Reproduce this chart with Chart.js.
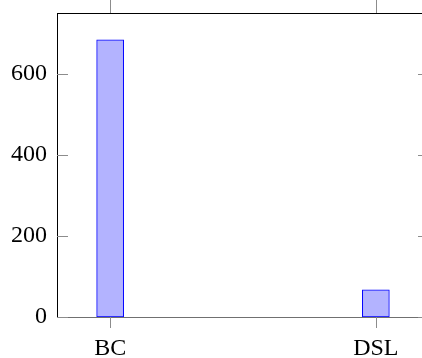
<!DOCTYPE html>
<html>
<head>
<meta charset="utf-8">
<script src="https://cdn.jsdelivr.net/npm/chart.js@4/dist/chart.umd.min.js"></script>
<style>
  html, body { margin: 0; padding: 0; background: #fff; overflow: hidden; }
  #wrap { width: 440px; height: 358px; }
</style>
</head>
<body>
<div id="wrap"><canvas id="chart" width="440" height="358"></canvas></div>
<script>
// DATA
const categories = ["BC", "DSL"];
const values = [684, 67];
const yTicks = [0, 200, 400, 600];

const points = categories.map((c, i) => ({ x: i, y: values[i] }));

// frame + pgfplots style ticks (inward on y, outward on x)
const framePlugin = {
  id: "frame",
  afterDraw(chart) {
    const { ctx, chartArea: a, scales: { x, y } } = chart;
    ctx.save();
    ctx.lineWidth = 1;
    ctx.strokeStyle = "#000";
    ctx.beginPath();
    ctx.moveTo(a.left, a.top + 0.5);
    ctx.lineTo(a.right, a.top + 0.5);
    ctx.moveTo(a.right + 0.5, a.top);
    ctx.lineTo(a.right + 0.5, a.bottom);
    ctx.stroke();

    ctx.strokeStyle = "#8c8c8c";
    ctx.beginPath();
    yTicks.forEach(v => {
      const py = Math.round(y.getPixelForValue(v)) + 0.5;
      ctx.moveTo(a.left, py);
      ctx.lineTo(a.left + 11, py);
      ctx.moveTo(a.right - 11, py);
      ctx.lineTo(a.right, py);
    });
    categories.forEach((c, i) => {
      const px = Math.round(x.getPixelForValue(i)) + 0.5;
      ctx.moveTo(px, a.bottom);
      ctx.lineTo(px, a.bottom + 11);
      ctx.moveTo(px, a.top);
      ctx.lineTo(px, a.top - 14);
    });
    ctx.stroke();
    ctx.restore();
  }
};

const font = { family: "'Liberation Serif', 'DejaVu Serif', serif", size: 24 };

new Chart(document.getElementById("chart"), {
  type: "bar",
  data: {
    datasets: [{
      data: points,
      backgroundColor: "#b3b3ff",
      borderColor: "#0000ff",
      borderWidth: 1,
      borderSkipped: false,
      barThickness: 27,
    }]
  },
  options: {
    responsive: false,
    animation: false,
    layout: { padding: { top: 13, right: 11, left: 0, bottom: 0 } },
    plugins: { legend: { display: false }, tooltip: { enabled: false } },
    scales: {
      x: {
        type: "linear",
        min: -0.2,
        max: 1.2,
        offset: false,
        grid: { display: false, drawTicks: false, offset: false },
        border: { display: true, color: "#707070", width: 1 },
        afterBuildTicks: s => { s.ticks = categories.map((c, i) => ({ value: i })); },
        afterFit: s => { s.height = 41; s.paddingLeft = 0; s.paddingRight = 0; },
        ticks: {
          color: "#000",
          font,
          padding: 17,
          maxRotation: 0,
          callback: v => categories[v] ?? "",
        }
      },
      y: {
        min: 0,
        max: 750,
        grid: { display: false, drawTicks: false },
        border: { display: true, color: "#000", width: 1 },
        afterBuildTicks: s => { s.ticks = yTicks.map(v => ({ value: v })); },
        afterFit: s => { s.width = 57; s.paddingTop = 0; s.paddingBottom = 0; },
        ticks: { color: "#000", font, padding: 10 }
      }
    }
  },
  plugins: [framePlugin]
});
</script>
</body>
</html>
